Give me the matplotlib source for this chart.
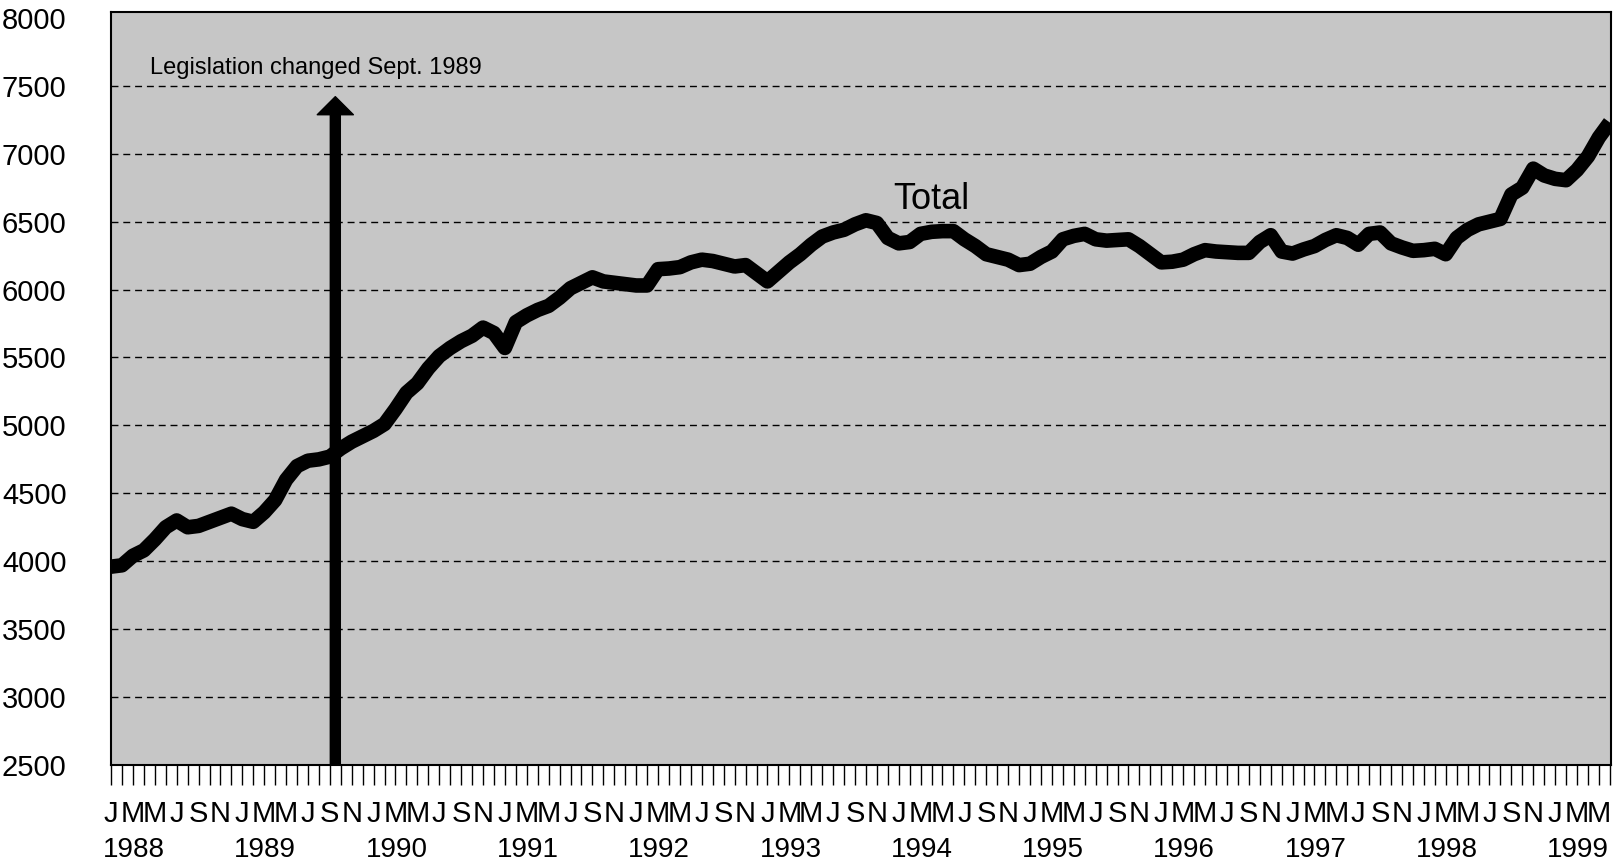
#!/usr/bin/env python3
"""Monthly total, Jan 1988 - Jun 1999, with the Sept. 1989 legislation marker."""
import numpy as np
import matplotlib

matplotlib.use("Agg")
import matplotlib.pyplot as plt
from matplotlib.patches import FancyArrowPatch, ArrowStyle

FONT = ["Liberation Sans", "DejaVu Sans"]

YEARS = list(range(1988, 2000))
MONTH_LETTERS = ["J", "", "M", "", "M", "", "J", "", "S", "", "N", ""]

# monthly totals, Jan 1988 .. Jun 1999
TOTAL = [
    3960, 3970, 4040, 4080, 4160, 4250, 4300, 4250, 4260, 4290, 4320, 4350,  # 1988
    4310, 4290, 4360, 4450, 4600, 4700, 4740, 4750, 4770, 4830, 4880, 4920,  # 1989
    4960, 5010, 5120, 5240, 5310, 5420, 5510, 5570, 5620, 5660, 5720, 5680,  # 1990
    5570, 5760, 5810, 5850, 5880, 5940, 6010, 6050, 6090, 6060, 6050, 6040,  # 1991
    6030, 6030, 6150, 6155, 6165, 6200, 6220, 6210, 6190, 6170, 6180, 6120,  # 1992
    6060, 6130, 6200, 6260, 6330, 6390, 6420, 6440, 6480, 6510, 6490, 6380,  # 1993
    6340, 6350, 6410, 6425, 6430, 6430, 6370, 6320, 6260, 6240, 6220, 6180,  # 1994
    6190, 6240, 6280, 6370, 6395, 6410, 6370, 6360, 6365, 6370, 6320, 6260,  # 1995
    6200, 6205, 6220, 6260, 6290, 6280, 6275, 6270, 6270, 6350, 6400, 6280,  # 1996
    6265, 6295, 6320, 6365, 6400, 6380, 6330, 6410, 6420, 6340, 6310, 6285,  # 1997
    6290, 6300, 6260, 6380, 6440, 6480, 6500, 6520, 6700, 6750, 6890, 6840,  # 1998
    6815, 6805, 6880, 6980, 7120, 7230,                                      # 1999
]

Y_TICKS = [2500, 3000, 3500, 4000, 4500, 5000, 5500, 6000, 6500, 7000, 7500, 8000]
GRID_LEVELS = [3000, 3500, 4000, 4500, 5000, 5500, 6000, 6500, 7000, 7500]

LEGISLATION_MONTH = 20.5   # Sept. 1989 (arrow sits a touch right of the tick)
ARROW_TIP = 7420


def main():
    fig = plt.figure(figsize=(16.14, 8.64), dpi=100)
    ax = fig.add_axes([0.0688, 0.1146, 0.9293, 0.871])
    ax.set_facecolor("#c6c6c6")

    n = len(TOTAL)
    x = np.arange(n)

    for g in GRID_LEVELS:
        ax.axhline(g, color="black", lw=1.0, dashes=(5, 3.5), zorder=1)

    ax.plot(x, TOTAL, color="black", lw=10.5, solid_joinstyle="round",
            solid_capstyle="butt", zorder=3)

    arrow = FancyArrowPatch((LEGISLATION_MONTH, Y_TICKS[0]), (LEGISLATION_MONTH, ARROW_TIP),
                            arrowstyle=ArrowStyle.Simple(head_length=13, head_width=26,
                                                         tail_width=7.2),
                            mutation_scale=1, shrinkA=0, shrinkB=0,
                            color="black", zorder=4, clip_on=False)
    ax.add_patch(arrow)
    ax.text(3.6, 7630, "Legislation changed Sept. 1989", fontsize=17,
            family=FONT, va="center", ha="left", zorder=5)
    ax.text(75, 6660, "Total", fontsize=26, family=FONT, va="center",
            ha="center", zorder=5)

    ax.set_xlim(0, n - 0.9)
    ax.set_ylim(2500, 8040)

    ax.set_yticks(Y_TICKS)
    ax.set_yticklabels([str(v) for v in Y_TICKS], family=FONT, fontsize=21)
    ax.tick_params(axis="y", length=0, pad=32)

    months = np.arange(n)
    ax.set_xticks(months)
    ax.set_xticklabels([MONTH_LETTERS[m % 12] for m in months], family=FONT,
                       fontsize=21)
    ax.tick_params(axis="x", direction="out", length=14.5, width=1.0, pad=11)

    for k, yr in enumerate(YEARS):
        ax.annotate(str(yr), xy=(12 * k + 2.1, 0), xycoords=("data", "axes fraction"),
                    xytext=(0, -66), textcoords="offset points", ha="center",
                    va="baseline", fontsize=20, family=FONT, annotation_clip=False)

    for s in ax.spines.values():
        s.set_linewidth(1.5)
        s.set_color("black")

    fig.savefig("out.png", dpi=100)


if __name__ == "__main__":
    main()
